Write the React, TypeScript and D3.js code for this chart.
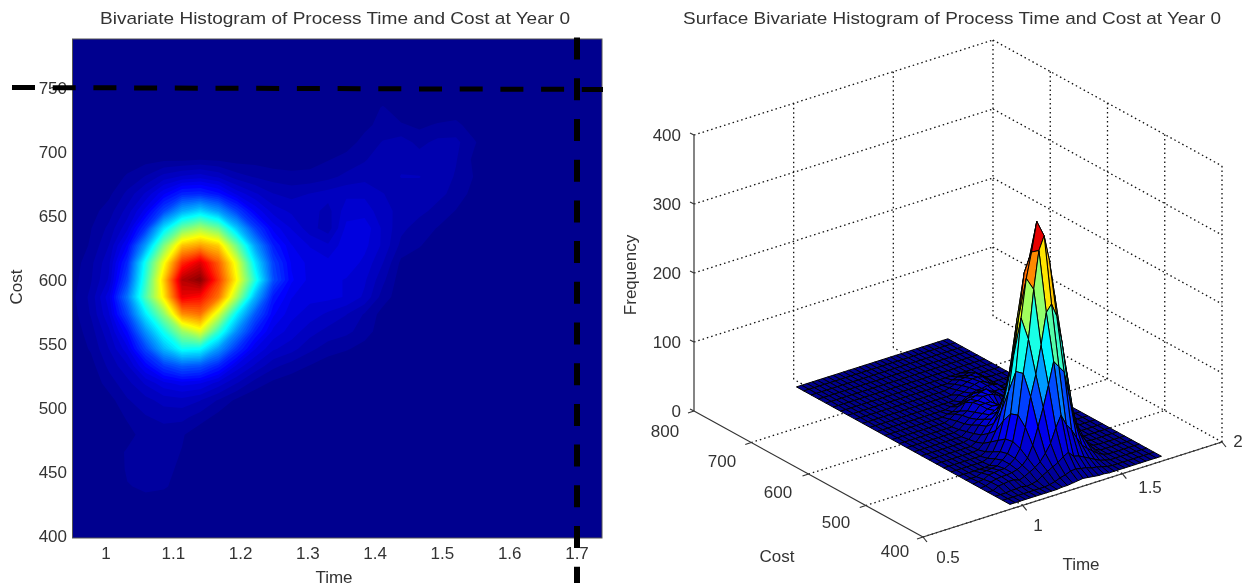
import React, { useMemo } from "react";
import * as d3 from "d3";

const W = 1247;
const H = 588;

// Frequency per bin: row index = cost bin (low to high), column index = time bin (low to high)
const row00 = [0,0,0,0,0,0,0,0,0,0,0,0,0,0,0,0,0,0,0,0,0,0,0,0,0,0,0,0,0,0];
const row01 = [0,0,0,0,1,1,0,0,0,0,0,0,0,0,0,0,0,0,0,0,0,0,0,0,0,0,0,0,0,0];
const row02 = [0,0,0,4,4,2,0,0,0,0,0,0,0,0,0,0,0,0,0,0,0,0,0,0,0,0,0,0,0,0];
const row03 = [0,0,1,5,6,6,3,0,0,0,0,0,0,0,0,0,0,0,0,0,0,0,0,0,0,0,0,0,0,0];
const row04 = [0,0,1,6,7,7,4,0,0,0,0,0,0,0,0,0,0,0,0,0,0,0,0,0,0,0,0,0,0,0];
const row05 = [0,0,2,6,7,8,5,0,0,0,0,0,0,0,0,0,0,0,0,0,0,0,0,0,0,0,0,0,0,0];
const row06 = [0,0,0,3,8,8,6,1,0,0,0,0,0,0,0,0,0,0,0,0,0,0,0,0,0,0,0,0,0,0];
const row07 = [0,0,1,6,10,12,12,8,3,0,0,0,0,0,0,0,0,0,0,0,0,0,0,0,0,0,0,0,0,0];
const row08 = [0,0,3,10,14,18,19,16,10,4,1,0,0,0,0,0,0,0,0,0,0,0,0,0,0,0,0,0,0,0];
const row09 = [0,1,8,14,22,30,34,32,24,16,8,4,2,0,0,0,0,0,0,0,0,0,0,0,0,0,0,0,0,0];
const row10 = [1,3,12,20,38,58,70,66,50,30,20,12,8,5,2,0,0,0,0,0,0,0,0,0,0,0,0,0,0,0];
const row11 = [1,6,16,30,62,100,128,125,90,55,32,22,18,12,8,6,3,0,0,0,0,0,0,0,0,0,0,0,0,0];
const row12 = [2,8,20,42,88,130,175,200,140,85,48,30,24,18,14,12,8,2,0,0,0,0,0,0,0,0,0,0,0,0];
const row13 = [3,11,26,62,118,170,245,255,195,120,68,38,28,24,20,16,10,3,0,0,0,0,0,0,0,0,0,0,0,0];
const row14 = [4,12,30,78,150,215,299,291,255,180,100,46,32,28,28,26,20,8,2,0,0,0,0,0,0,0,0,0,0,0];
const row15 = [3,10,22,62,140,225,318,333,275,210,135,65,38,30,28,26,22,12,2,0,0,0,0,0,0,0,0,0,0,0];
const row16 = [2,9,20,52,130,205,280,305,262,200,118,60,36,30,28,30,25,16,4,0,0,0,0,0,0,0,0,0,0,0];
const row17 = [1,6,16,38,92,165,228,240,225,160,92,48,32,26,22,30,28,20,9,6,0,0,0,0,0,0,0,0,0,0];
const row18 = [1,5,12,25,55,115,160,180,160,105,60,35,26,18,13,28,30,20,12,8,5,2,0,0,0,0,0,0,0,0];
const row19 = [0,3,8,18,34,62,95,110,90,60,36,24,20,18,14,24,24,18,14,12,9,5,0,0,0,0,0,0,0,0];
const row20 = [0,1,4,12,22,36,50,52,44,30,22,16,14,16,18,20,20,16,14,14,12,9,3,0,0,0,0,0,0,0];
const row21 = [0,0,2,6,11,18,22,24,20,13,10,8,7,7,9,12,14,14,16,16,14,10,5,0,0,0,0,0,0,0];
const row22 = [0,0,0,2,3,4,4,5,4,3,3,2,2,3,5,7,10,14,15,13,14,11,4,0,0,0,0,0,0,0];
const row23 = [0,0,0,0,0,1,1,1,1,0,0,0,0,0,1,3,7,11,13,9,12,12,6,0,0,0,0,0,0,0];
const row24 = [0,0,0,0,0,0,0,0,0,0,0,0,0,0,0,1,4,7,6,4,6,7,2,0,0,0,0,0,0,0];
const row25 = [0,0,0,0,0,0,0,0,0,0,0,0,0,0,0,0,1,6,1,0,0,1,0,0,0,0,0,0,0,0];
const row26 = [0,0,0,0,0,0,0,0,0,0,0,0,0,0,0,0,0,0,0,0,0,0,0,0,0,0,0,0,0,0];
const row27 = [0,0,0,0,0,0,0,0,0,0,0,0,0,0,0,0,0,0,0,0,0,0,0,0,0,0,0,0,0,0];
const row28 = [0,0,0,0,0,0,0,0,0,0,0,0,0,0,0,0,0,0,0,0,0,0,0,0,0,0,0,0,0,0];
const row29 = [0,0,0,0,0,0,0,0,0,0,0,0,0,0,0,0,0,0,0,0,0,0,0,0,0,0,0,0,0,0];
const freqRows = [row00,row01,row02,row03,row04,row05,row06,row07,row08,row09,row10,row11,row12,row13,row14,row15,row16,row17,row18,row19,row20,row21,row22,row23,row24,row25,row26,row27,row28,row29];

const timeTicks = [1, 1.1, 1.2, 1.3, 1.4, 1.5, 1.6, 1.7];
const costTicks = [400, 450, 500, 550, 600, 650, 700, 750];
const refTime = [1.7];
const refCost = [750];

const surfTimeTicks = [0.5, 1, 1.5, 2];
const surfCostTicks = [400, 500, 600, 700, 800];
const surfFreqTicks = [0, 100, 200, 300, 400];
const titleLeft = "Bivariate Histogram of Process Time and Cost at Year 0";
const titleRight = "Surface Bivariate Histogram of Process Time and Cost at Year 0";

const jet = d3
  .scaleLinear<string>()
  .domain([0, 0.111, 0.365, 0.619, 0.873, 1])
  .range(["rgb(0,0,143)", "rgb(0,0,255)", "rgb(0,255,255)", "rgb(255,255,0)", "rgb(255,0,0)", "rgb(128,0,0)"])
  .clamp(true);

const FONT = "'Liberation Sans', Arial, sans-serif";
const TXT = "#333";

const N = freqRows.length;
const maxFreq = d3.max(freqRows.flat()) as number;

export default function App() {
  // ---- left panel
  const L = { x0: 72.5, x1: 602, y0: 538, y1: 39 };
  const xTime = d3.scaleLinear().domain([1, 1.7]).range([106, 577]);
  const yCost = d3.scaleLinear().domain([400, 750]).range([536, 88]);
  const sx = d3.scaleLinear().domain([0.5, N - 0.5]).range([L.x0, L.x1]);
  const sy = d3.scaleLinear().domain([0.5, N - 0.5]).range([L.y0, L.y1]);

  const bands = useMemo(() => {
    const levels = d3.range(1, 64).map((k) => (k / 63) * maxFreq);
    const contours = d3.contours().size([N, N]).thresholds(levels)(freqRows.flat());
    const path = d3.geoPath(
      d3.geoTransform({
        point(x: number, y: number) {
          (this as any).stream.point(sx(x), sy(y));
        },
      })
    );
    return contours.map((c) => ({ d: path(c as any) || "", fill: jet(c.value / maxFreq) }));
  }, []);

  // ---- right panel: orthographic projection of (time, cost, frequency)
  const px = d3.scaleLinear().domain([0.5, 2]).range([923, 1222]);
  const pyT = d3.scaleLinear().domain([0.5, 2]).range([537, 442]);
  const qx = d3.scaleLinear().domain([400, 800]).range([0, -229]);
  const qy = d3.scaleLinear().domain([400, 800]).range([0, -126]);
  const rz = d3.scaleLinear().domain([0, 400]).range([0, -276]);
  const proj = (t: number, c: number, z: number): [number, number] => [
    px(t) + qx(c),
    pyT(t) + qy(c) + rz(z),
  ];
  const timeOfBin = d3.scaleLinear().domain([0, N - 1]).range([0.965, 1.725]);
  const costOfBin = d3.scaleLinear().domain([0, N - 1]).range([410, 783]);

  const facets = useMemo(() => {
    const out: { d: string; fill: string }[] = [];
    const line = d3.line();
    for (let a = N - 2; a >= 0; a--) {
      for (let b = N - 2; b >= 0; b--) {
        const pts: [number, number][] = [
          proj(timeOfBin(a), costOfBin(b), freqRows[a][b]),
          proj(timeOfBin(a + 1), costOfBin(b), freqRows[a + 1][b]),
          proj(timeOfBin(a + 1), costOfBin(b + 1), freqRows[a + 1][b + 1]),
          proj(timeOfBin(a), costOfBin(b + 1), freqRows[a][b + 1]),
        ];
        out.push({ d: (line(pts) as string) + "Z", fill: jet(freqRows[a][b] / maxFreq) });
      }
    }
    return out;
  }, []);

  const seg = (p: [number, number], q: [number, number]) => ({ x1: p[0], y1: p[1], x2: q[0], y2: q[1] });
  const grid: ReturnType<typeof seg>[] = [];
  surfTimeTicks.forEach((t) => {
    if (t > 0.5) grid.push(seg(proj(t, 400, 0), proj(t, 800, 0)));
    if (t > 0.5) grid.push(seg(proj(t, 800, 0), proj(t, 800, 400)));
  });
  surfCostTicks.forEach((c) => {
    if (c < 800) grid.push(seg(proj(0.5, c, 0), proj(2, c, 0)));
    if (c < 800) grid.push(seg(proj(2, c, 0), proj(2, c, 400)));
  });
  surfFreqTicks.forEach((z) => {
    if (z > 0) {
      grid.push(seg(proj(0.5, 800, z), proj(2, 800, z)));
      grid.push(seg(proj(2, 800, z), proj(2, 400, z)));
    }
  });

  const text = (x: number, y: number, s: string | number, anchor = "middle", size = 17, extra: any = {}) => (
    <text key={`${s}-${x}-${y}`} x={x} y={y} textAnchor={anchor} fontSize={size} fontFamily={FONT} fill={TXT} {...extra}>
      {s}
    </text>
  );

  const costLabelPos: Record<number, [number, number]> = { 400: [895, 557], 500: [836, 528], 600: [778, 498], 700: [722, 467], 800: [665, 437] };
  const timeLabelPos: Record<number, [number, number]> = { 0.5: [948, 563], 1: [1038, 531], 1.5: [1150, 493], 2: [1238, 447] };

  const axis = { stroke: "#333", strokeWidth: 1.2 };

  return (
    <svg
      width={W}
      height={H}
      viewBox={`0 0 ${W} ${H}`}
      style={{ position: "absolute", left: 0, top: 0, background: "#fff", filter: "blur(0.45px)" }}
    >
      <defs>
        <clipPath id="plot">
          <rect x={L.x0} y={L.y1} width={L.x1 - L.x0} height={L.y0 - L.y1} />
        </clipPath>
      </defs>

      {/* Left: heat map */}
      <g clipPath="url(#plot)">
        <rect x={L.x0} y={L.y1} width={L.x1 - L.x0} height={L.y0 - L.y1} fill={jet(0)} />
        {bands.map((b, i) => (
          <path key={i} d={b.d} fill={b.fill} />
        ))}
      </g>
      <rect x={L.x0} y={L.y1} width={L.x1 - L.x0} height={L.y0 - L.y1} fill="none" stroke="#555" strokeWidth={1} />
      {timeTicks.map((t) => text(xTime(t), 559, t))}
      {costTicks.map((c) => text(67, yCost(c) + 6, c, "end"))}
      {text(334, 583, "Time")}
      {text(0, 0, "Cost", "middle", 17, { transform: "translate(22,287) rotate(-90)" })}
      {text(335, 24, titleLeft, "middle", 17, { textLength: 470, lengthAdjust: "spacingAndGlyphs" })}

      {/* Reference lines */}
      {refCost.map((c) => (
        <line key={c} x1={12} x2={603} y1={yCost(c) - 0.5} y2={yCost(c) + 1.5} stroke="#000" strokeWidth={5} strokeDasharray="23 17.7" />
      ))}
      {refTime.map((t) => (
        <line key={t} x1={xTime(t)} x2={xTime(t)} y1={37.6} y2={583} stroke="#000" strokeWidth={6} strokeDasharray="22 18.7" />
      ))}

      {/* Right: surface */}
      {grid.map((g, i) => (
        <line key={i} {...g} stroke="#111" strokeWidth={1.3} strokeDasharray="1.5 3" />
      ))}
      <line {...seg(proj(0.5, 800, 0), proj(0.5, 800, 400))} {...axis} />
      <line {...seg(proj(0.5, 400, 0), proj(0.5, 800, 0))} {...axis} />
      <line {...seg(proj(0.5, 400, 0), proj(2, 400, 0))} {...axis} />
      {surfFreqTicks.map((z) => {
        const p = proj(0.5, 800, z);
        return <line key={z} x1={p[0]} y1={p[1]} x2={p[0] - 4} y2={p[1] - 2} {...axis} />;
      })}
      {surfCostTicks.map((c) => {
        const p = proj(0.5, c, 0);
        return <line key={c} x1={p[0]} y1={p[1]} x2={p[0] - 6} y2={p[1] + 2} {...axis} />;
      })}
      {surfTimeTicks.map((t) => {
        const p = proj(t, 400, 0);
        return <line key={t} x1={p[0]} y1={p[1]} x2={p[0] + 4} y2={p[1] + 5} {...axis} />;
      })}
      {facets.map((f, i) => (
        <path key={i} d={f.d} fill={f.fill} stroke="#000" strokeWidth={1} strokeLinejoin="round" />
      ))}
      {surfFreqTicks.map((z) => text(681, proj(0.5, 800, z)[1] + 6, z, "end"))}
      {surfCostTicks.map((c) => text(costLabelPos[c][0], costLabelPos[c][1], c))}
      {surfTimeTicks.map((t) => text(timeLabelPos[t][0], timeLabelPos[t][1], t))}
      {text(777, 562, "Cost")}
      {text(1081, 570, "Time")}
      {text(0, 0, "Frequency", "middle", 17, { transform: "translate(636,275) rotate(-90)" })}
      {text(952, 24, titleRight, "middle", 17, { textLength: 538, lengthAdjust: "spacingAndGlyphs" })}
    </svg>
  );
}
